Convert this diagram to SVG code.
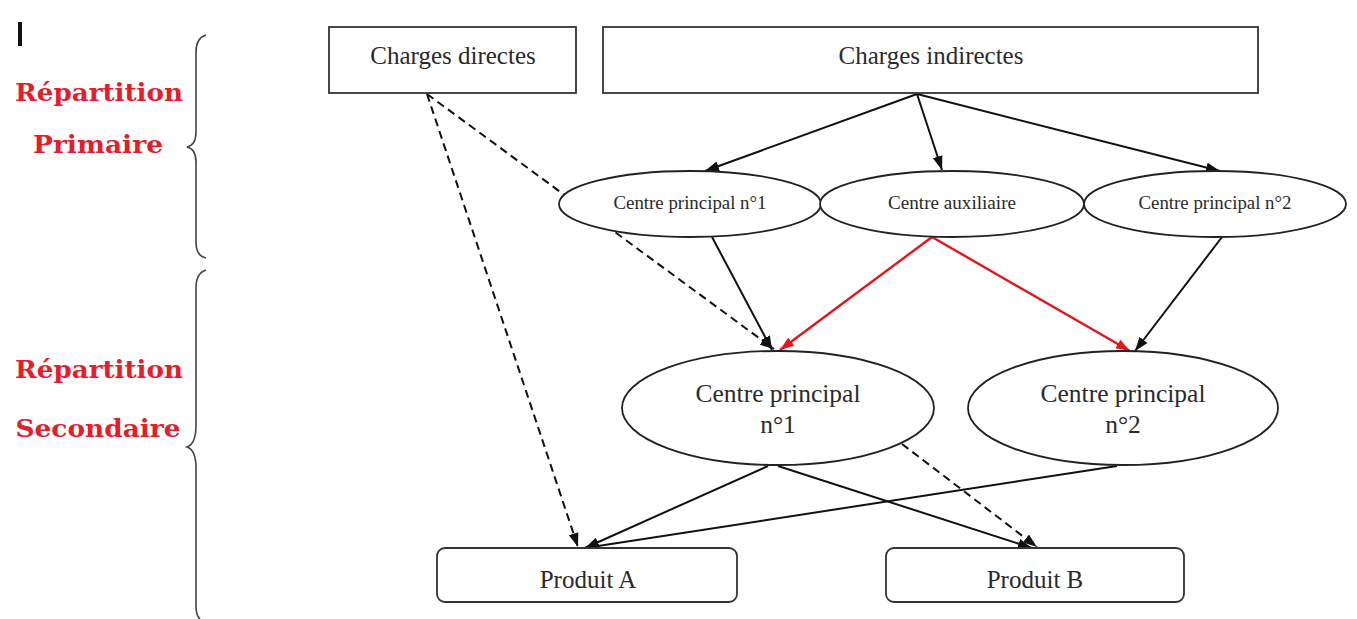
<svg xmlns="http://www.w3.org/2000/svg" width="1357" height="619" viewBox="0 0 1357 619">
<style>
.box{fill:#fff;stroke:#333;stroke-width:1.8}
.ell{fill:#fff;stroke:#222;stroke-width:1.8}
.t{font-family:"Liberation Serif","Times New Roman",serif;fill:#2a2a2a;text-anchor:middle}
.lab{font-family:"DejaVu Serif","Liberation Serif",serif;font-weight:bold;fill:#e3202a;text-anchor:middle}
.e{fill:none;stroke:#111;stroke-width:2}
.d{fill:none;stroke:#111;stroke-width:2;stroke-dasharray:8 5}
.r{fill:none;stroke:#e8141c;stroke-width:2.4}
.br{fill:none;stroke:#444;stroke-width:1.6}
</style>
<defs>
<marker id="ab" markerUnits="userSpaceOnUse" markerWidth="15" markerHeight="11" refX="14" refY="5.5" orient="auto"><path d="M0,0.5 L14,5.5 L0,10.5 z" fill="#111"/></marker>
<marker id="ar" markerUnits="userSpaceOnUse" markerWidth="15" markerHeight="11" refX="14" refY="5.5" orient="auto"><path d="M0,0.5 L14,5.5 L0,10.5 z" fill="#e8141c"/></marker>
</defs>
<rect width="1357" height="619" fill="#fff"/>
<rect x="18" y="22" width="4" height="24" fill="#111"/>
<g id="labels">
<text class="lab" x="99" y="101" font-size="25" textLength="168" lengthAdjust="spacingAndGlyphs">Répartition</text>
<text class="lab" x="98" y="153" font-size="25" textLength="130" lengthAdjust="spacingAndGlyphs">Primaire</text>
<text class="lab" x="99" y="378" font-size="25" textLength="168" lengthAdjust="spacingAndGlyphs">Répartition</text>
<text class="lab" x="98" y="437" font-size="25" textLength="165" lengthAdjust="spacingAndGlyphs">Secondaire</text>
</g>
<g id="braces">
<path class="br" d="M206,35 Q196,38 196,52 L196,132 Q196,145 187,147 Q196,149 196,162 L196,242 Q196,256 206,258"/>
<path class="br" d="M206,270 Q196,273 196,288 L196,425 Q196,444 187,447 Q196,450 196,468 L196,605 Q196,616 200,619"/>
</g>
<g id="connectors">
<line class="e" x1="917" y1="94" x2="705" y2="171" marker-end="url(#ab)"/>
<line class="e" x1="917" y1="94" x2="942" y2="170" marker-end="url(#ab)"/>
<line class="e" x1="917" y1="94" x2="1220" y2="171" marker-end="url(#ab)"/>
<line class="d" x1="427" y1="94" x2="774" y2="349" marker-end="url(#ab)"/>
<line class="d" x1="427" y1="94" x2="578" y2="547" marker-end="url(#ab)"/>
<line class="e" x1="712" y1="237" x2="772" y2="350" marker-end="url(#ab)"/>
<line class="r" x1="932" y1="237" x2="780" y2="350" marker-end="url(#ar)"/>
<line class="r" x1="932" y1="237" x2="1130" y2="351" marker-end="url(#ar)"/>
<line class="e" x1="1222" y1="237" x2="1135" y2="351" marker-end="url(#ab)"/>
<line class="e" x1="768" y1="466" x2="585" y2="548" marker-end="url(#ab)"/>
<line class="e" x1="778" y1="466" x2="1032" y2="548" marker-end="url(#ab)"/>
<line class="e" x1="1117" y1="466" x2="585" y2="548" marker-end="url(#ab)"/>
<line class="d" x1="902" y1="444" x2="1037" y2="547" marker-end="url(#ab)"/>
</g>
<g id="charges-directes">
<rect class="box" x="329" y="27" width="247" height="66"/>
<text class="t" x="453" y="64" font-size="25">Charges directes</text>
</g>
<g id="charges-indirectes">
<rect class="box" x="603" y="27" width="655" height="66"/>
<text class="t" x="931" y="64" font-size="25">Charges indirectes</text>
</g>
<g id="centre-principal-1-primaire">
<ellipse class="ell" cx="690" cy="204" rx="131" ry="33"/>
<text class="t" x="690" y="209" font-size="18" textLength="153" lengthAdjust="spacingAndGlyphs">Centre principal n°1</text>
</g>
<g id="centre-auxiliaire">
<ellipse class="ell" cx="952" cy="204" rx="132" ry="33"/>
<text class="t" x="952" y="209" font-size="18" textLength="128" lengthAdjust="spacingAndGlyphs">Centre auxiliaire</text>
</g>
<g id="centre-principal-2-primaire">
<ellipse class="ell" cx="1215" cy="204" rx="131" ry="33"/>
<text class="t" x="1215" y="209" font-size="18" textLength="153" lengthAdjust="spacingAndGlyphs">Centre principal n°2</text>
</g>
<g id="centre-principal-1">
<ellipse class="ell" cx="778" cy="408" rx="156" ry="57"/>
<text class="t" x="778" y="402" font-size="25.5">Centre principal</text>
<text class="t" x="778" y="433" font-size="25.5">n°1</text>
</g>
<g id="centre-principal-2">
<ellipse class="ell" cx="1123" cy="408" rx="155" ry="57"/>
<text class="t" x="1123" y="402" font-size="25.5">Centre principal</text>
<text class="t" x="1123" y="433" font-size="25.5">n°2</text>
</g>
<g id="produit-a">
<rect class="box" x="437" y="548" width="300" height="54" rx="8"/>
<text class="t" x="588" y="588" font-size="25">Produit A</text>
</g>
<g id="produit-b">
<rect class="box" x="886" y="548" width="298" height="54" rx="8"/>
<text class="t" x="1035" y="588" font-size="25">Produit B</text>
</g>
</svg>
